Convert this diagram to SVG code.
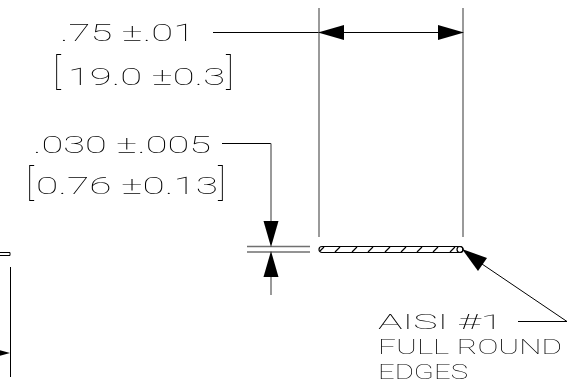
<svg xmlns="http://www.w3.org/2000/svg" width="571" height="384" viewBox="0 0 571 384">
<style>
text{font-family:"Roboto","Liberation Sans",sans-serif;font-weight:100;font-size:24px;fill:#000}
.t{filter:url(#gray)}
.b{font-size:36px;font-weight:100}
.n{font-size:21px}
.l{fill:none;stroke:#000;stroke-width:1}
.g{fill:none;stroke:#707070;stroke-width:1.4}
.a{fill:#000;stroke:none}
.h{fill:none;stroke:#000;stroke-width:1.2}
</style>
<defs><filter id="gray" x="0" y="0" width="1" height="1" filterUnits="objectBoundingBox"><feOffset dx="0" dy="0"/></filter></defs>
<rect width="571" height="384" fill="#fff"/>
<g id="connectors">
<path class="l" d="M213 32.500H463"/>
<path class="g" d="M319 8V237M463 8V237"/>
<path class="l" d="M222 143.500H271"/>
<path class="g" d="M271 143.500V222M271 277V295M247 246.500H310M247 252H310"/>
<polygon class="a" points="318,32.500 344,25 344,40"/>
<polygon class="a" points="464,32.500 438,25 438,40"/>
<polygon class="a" points="271,247 263.500,221 278.500,221"/>
<polygon class="a" points="271,251 263.500,277 278.500,277"/>
<path class="l" d="M482 264L567 321.500H518"/>
<polygon class="a" points="462,249 487,258 478,271"/>
<path class="l" d="M0 252.500H10V255.500H0M10.500 267V377"/>
<polygon class="a" points="10,353 -15,346 -15,360"/>
</g>
<g id="part">
<path class="h" d="M322 246.500H460A3 3 0 0 1 460 252.500H322A3 3 0 0 1 322 246.500Z"/>
<circle class="h" cx="460" cy="249.500" r="3"/>
<path class="h" d="M320 251L324 247M335 252L340 247M352 252L357 247M368 252L373 247M385 252L390 247M401 252L406 247M417 252L422 247M433 252L438 247M450 252L455 247"/>
</g>
<g id="dim-width" class="t">
<text x="60" y="41" textLength="135" lengthAdjust="spacingAndGlyphs">.75 ±.01</text>
<text y="85"><tspan class="b" x="53" y="84">[</tspan><tspan x="68" y="85" textLength="157" lengthAdjust="spacingAndGlyphs">19.0 ±0.3</tspan><tspan class="b" x="226" y="84">]</tspan></text>
</g>
<g id="dim-thickness" class="t">
<text x="33" y="153" textLength="178" lengthAdjust="spacingAndGlyphs">.030 ±.005</text>
<text y="194"><tspan class="b" x="26" y="195">[</tspan><tspan x="36" y="194" textLength="182" lengthAdjust="spacingAndGlyphs">0.76 ±0.13</tspan><tspan class="b" x="218" y="195">]</tspan></text>
</g>
<g id="note" class="t">
<text class="n" x="378" y="329" textLength="125" lengthAdjust="spacingAndGlyphs">AISI #1</text>
<text class="n" x="378" y="354" textLength="184" lengthAdjust="spacingAndGlyphs">FULL ROUND</text>
<text class="n" x="378" y="379" textLength="90" lengthAdjust="spacingAndGlyphs">EDGES</text>
</g>
</svg>
